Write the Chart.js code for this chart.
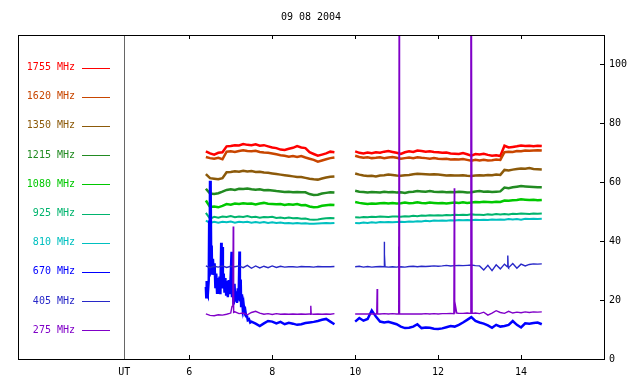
<!DOCTYPE html>
<html>
<head>
<meta charset="utf-8">
<script src="https://cdn.jsdelivr.net/npm/chart.js@4/dist/chart.umd.min.js"></script>
<style>
  html, body { margin: 0; padding: 0; background: #fff; }
  canvas { display: block; }
</style>
</head>
<body>
<canvas id="chart" width="640" height="384"></canvas>
<script>
// Radio flux records, 09 08 2004 (UT hours on x, flux on the right axis)
const chartTitle = '09 08 2004';

// common time grid: first run 6.4-9.5 UT, second run 10.0-14.5 UT
const ut = [
  6.4, 6.5, 6.6, 6.7, 6.8, 6.9, 7.0, 7.1, 7.2, 7.3, 7.4, 7.5, 7.6, 7.7, 7.8, 7.9,
  8.0, 8.1, 8.2, 8.3, 8.4, 8.5, 8.6, 8.7, 8.8, 8.9, 9.0, 9.1, 9.2, 9.3, 9.4, 9.5,
  10.0, 10.1, 10.2, 10.3, 10.4, 10.5, 10.6, 10.7, 10.8, 10.9,
  11.0, 11.1, 11.2, 11.3, 11.4, 11.5, 11.6, 11.7, 11.8, 11.9,
  12.0, 12.1, 12.2, 12.3, 12.4, 12.5, 12.6, 12.7, 12.8, 12.9,
  13.0, 13.1, 13.2, 13.3, 13.4, 13.5, 13.6, 13.7, 13.8, 13.9,
  14.0, 14.1, 14.2, 14.3, 14.4, 14.5
];

const mhz1755 = [
  70.5, 69.8, 69.4, 70.0, 70.2, 72.2, 72.3, 72.6, 72.5, 73.0, 72.7, 72.6, 72.9, 72.4, 72.6, 72.2,
  71.8, 71.6, 71.1, 71.0, 71.4, 71.7, 72.3, 71.8, 71.6, 70.2, 69.6, 69.0, 69.4, 69.8, 70.4, 70.2,
  70.5, 70.0, 69.8, 70.1, 69.9, 70.2, 70.0, 70.4, 70.6, 70.3,
  70.0, 69.6, 70.2, 70.5, 70.3, 70.8, 70.6, 70.4, 70.5, 70.3,
  70.2, 70.0, 70.1, 69.8, 69.7, 69.6, 69.9, 69.5, 69.0, 69.6,
  69.4, 69.7, 69.3, 69.0, 69.2, 68.9, 72.4, 71.8, 72.0, 72.2,
  72.5, 72.3, 72.4, 72.2, 72.4, 72.3
];
const mhz1620 = [
  68.6, 68.2, 68.0, 68.3, 67.8, 70.4, 70.5, 70.3, 70.6, 70.9, 70.6, 70.5, 70.7, 70.3, 70.1, 70.0,
  69.8, 69.5, 69.2, 69.0, 68.7, 68.9, 68.6, 68.9, 68.4, 68.0, 67.6, 67.0, 67.4, 67.8, 68.2, 68.4,
  69.0, 68.6, 68.3, 68.5, 68.2, 68.3, 68.5, 68.2, 68.4, 68.6,
  68.3, 68.0, 68.2, 68.4, 68.2, 68.5, 68.3, 68.2, 68.0, 68.2,
  68.0, 67.9, 68.0, 67.7, 67.8, 67.7, 67.9, 67.6, 67.3, 67.6,
  67.4, 67.6, 67.4, 67.5, 67.7, 67.6, 70.2, 70.4, 70.3, 70.6,
  70.5, 70.8, 70.7, 70.8, 70.9, 70.8
];
const mhz1350 = [
  62.8, 61.4, 61.2, 61.0, 61.4, 63.4, 63.5, 63.7, 63.6, 63.9, 63.7, 63.8, 63.5, 63.6, 63.3, 63.2,
  63.0, 62.8, 62.6, 62.4, 62.2, 62.0, 61.8, 61.8, 61.5, 61.2, 61.0, 60.9, 61.3, 61.6, 61.9, 62.0,
  63.0, 62.6, 62.3, 62.1, 62.2, 62.0, 62.3, 62.4, 62.6, 62.5,
  62.3, 62.2, 62.4, 62.5, 62.7, 62.9, 62.8, 62.7, 62.6, 62.7,
  62.6, 62.5, 62.3, 62.4, 62.3, 62.3, 62.4, 62.2, 62.1, 62.3,
  62.4, 62.3, 62.5, 62.4, 62.6, 62.5, 64.2, 64.0, 64.3, 64.5,
  64.7, 64.6, 64.8, 64.5, 64.4, 64.3
];
const mhz1215 = [
  57.8, 56.2, 56.0, 56.3, 56.8, 57.4, 57.6, 57.4, 57.8, 57.7, 57.9, 57.6, 57.5, 57.6, 57.3, 57.4,
  57.2, 57.0, 56.9, 56.7, 56.8, 56.6, 56.7, 56.6, 56.6, 56.0, 55.7, 55.8, 56.2, 56.4, 56.6, 56.5,
  57.1, 56.8, 56.7, 56.5, 56.7, 56.6, 56.5, 56.8, 56.6, 56.7,
  56.5, 56.6, 56.4, 56.7, 56.8, 57.0, 56.9, 56.8, 57.0, 56.8,
  56.7, 56.8, 56.6, 56.7, 56.6, 56.8, 56.7, 56.5, 56.6, 56.9,
  57.0, 56.8, 56.9, 56.7, 56.8, 56.9, 58.2, 58.0, 58.3, 58.5,
  58.7, 58.6, 58.5, 58.4, 58.3, 58.3
];
const mhz1080 = [
  53.8, 51.6, 51.8, 51.5, 52.0, 52.6, 52.4, 52.8, 52.6, 52.9, 52.7, 52.8, 52.5, 52.8, 53.0, 52.7,
  52.6, 52.5, 52.6, 52.3, 52.5, 52.4, 52.6, 52.2, 52.3, 51.8, 51.5, 51.6, 52.0, 52.2, 52.4, 52.3,
  53.3, 53.0, 52.8, 52.6, 52.8, 52.7, 52.9, 53.0, 52.8, 53.0,
  52.8, 52.9, 53.1, 52.9, 53.0, 53.2, 53.0, 52.9, 53.1, 53.0,
  52.9, 53.0, 52.8, 53.0, 53.1, 53.0, 53.2, 53.0, 53.1, 53.3,
  53.2, 53.4, 53.3, 53.2, 53.4, 53.3, 53.8, 53.7, 53.9, 54.0,
  54.2, 54.1, 54.0, 54.1, 53.9, 54.0
];
const mhz925 = [
  49.6, 47.6, 48.3, 48.0, 48.4, 48.2, 48.5, 48.1, 48.4, 48.2, 48.5, 48.1, 48.3, 48.0, 48.2, 48.1,
  48.3, 47.9, 48.0, 47.8, 48.0, 47.8, 47.9, 47.6, 47.7, 47.4, 47.3, 47.4, 47.6, 47.8, 47.9, 47.8,
  48.1, 48.0, 48.2, 48.1, 48.3, 48.2, 48.4, 48.3, 48.2, 48.4,
  48.4, 48.3, 48.5, 48.4, 48.6, 48.5, 48.7, 48.6, 48.8, 48.7,
  48.8, 48.7, 48.9, 48.8, 49.0, 48.9, 49.0, 48.9, 49.1, 49.0,
  49.0, 48.9, 49.1, 49.0, 49.2, 49.1, 49.2, 49.1, 49.3, 49.2,
  49.4, 49.3, 49.2, 49.4, 49.3, 49.4
];
const mhz810 = [
  47.0, 46.2, 46.6, 46.3, 46.6, 46.4, 46.7, 46.3, 46.6, 46.4, 46.6, 46.3, 46.5, 46.3, 46.5, 46.2,
  46.4, 46.2, 46.3, 46.1, 46.2, 46.0, 46.2, 46.0, 46.1, 45.9, 45.9, 46.0, 46.1, 46.2, 46.1, 46.2,
  46.2, 46.1, 46.3, 46.2, 46.4, 46.3, 46.5, 46.4, 46.5, 46.4,
  46.5, 46.6, 46.5, 46.7, 46.6, 46.8, 46.7, 46.9, 46.8, 47.0,
  46.9, 47.0, 46.9, 47.1, 47.0, 47.2, 47.1, 47.2, 47.1, 47.3,
  47.2, 47.3, 47.2, 47.4, 47.3, 47.4, 47.3, 47.5, 47.4, 47.5,
  47.3, 47.6, 47.5, 47.6, 47.5, 47.6
];
// 670 MHz: null where the burst samples below take over
const mhz670 = [
  null, null, null, null, null, null, null, null, null, null, null, 12.7, 12.0, 11.2, 12.1, 12.9,
  12.7, 12.1, 12.6, 11.8, 12.3, 12.0, 11.6, 11.8, 12.2, 12.4, 12.6, 12.9, 13.3, 13.6, 12.7, 11.8,
  12.7, 13.9, 13.0, 13.6, 16.5, 14.4, 12.7, 12.4, 12.6, 12.2,
  11.8, 11.0, 10.5, 10.6, 11.0, 11.8, 10.5, 10.7, 10.6, 10.3,
  10.2, 10.4, 10.8, 11.2, 11.0, 11.6, 12.4, 13.3, 14.2, 12.9,
  12.4, 12.0, 11.4, 10.6, 11.6, 11.0, 11.2, 11.6, 12.9, 11.6,
  10.7, 12.1, 12.0, 12.2, 12.4, 11.8
];
const burst670Times = [
  6.40, 6.41, 6.42, 6.43, 6.44, 6.45, 6.47, 6.48, 6.49, 6.50, 6.51, 6.52, 6.53, 6.54, 6.55,
  6.57, 6.59, 6.61, 6.63, 6.65, 6.67, 6.69, 6.71, 6.73, 6.75, 6.77, 6.78, 6.80, 6.81, 6.83,
  6.85, 6.87, 6.89, 6.91, 6.93, 6.95, 6.97, 6.99, 7.02, 7.03, 7.05, 7.07, 7.09, 7.11, 7.13,
  7.15, 7.17, 7.19, 7.21, 7.22, 7.24, 7.25, 7.27, 7.29, 7.31, 7.33, 7.35, 7.37, 7.39, 7.41,
  7.44, 7.47
];
const burst670Values = [
  24.5, 21.0, 26.5, 22.0, 25.5, 21.5, 27.0, 47.0, 28.0, 60.5, 32.0, 59.0, 30.0, 38.5, 29.0,
  34.0, 28.5, 32.5, 24.0, 29.0, 22.5, 27.5, 23.0, 28.0, 22.0, 39.5, 26.0, 38.0, 24.0, 29.0,
  22.5, 27.5, 21.5, 26.5, 21.0, 26.8, 22.0, 25.0, 36.4, 21.0, 24.5, 18.5, 25.5, 19.5, 23.0,
  19.0, 24.0, 20.0, 36.5, 19.5, 27.0, 18.0, 22.0, 17.0, 18.5, 15.8, 16.5, 14.5, 14.8, 13.2,
  13.5, 12.4
];
const mhz405 = [
  31.6, 31.0, 31.5, 31.2, 31.6, 31.1, 31.5, 31.3, 31.6, 31.0, 31.8, 30.8, 31.6, 30.9, 31.5, 31.0,
  31.6, 31.1, 31.5, 31.2, 31.3, 31.3, 31.2, 31.4, 31.3, 31.3, 31.2, 31.4, 31.3, 31.3, 31.3, 31.4,
  31.3, 31.5, 31.2, 31.4, 31.2, 31.3, 31.4, 31.3, 31.2, 31.3,
  31.2, 31.3, 31.2, 31.4, 31.5, 31.3, 31.5, 31.4, 31.5, 31.6,
  31.5, 31.6, 31.8, 31.6, 31.7, 31.8, 31.7, 31.8, 31.9, 31.7,
  31.6, 30.2, 31.8, 30.0, 32.0, 30.6, 32.2, 31.0, 32.4, 30.8,
  32.2, 31.6, 32.1, 32.3, 32.2, 32.3
];
const spike405Times = [10.69, 10.70, 10.71, 10.72, 11.04, 11.05, 11.06, 13.67, 13.68, 13.69];
const spike405Values = [31.3, 39.8, 35.6, 31.3, 31.3, 38.2, 31.2, 31.3, 35.1, 31.2];
const mhz275 = [
  15.3, 14.8, 14.7, 15.0, 14.9, 15.2, 15.6, 16.0, 15.4, 15.6, 15.0, 15.8, 16.2, 15.6, 15.2, 15.4,
  15.1, 15.4, 15.2, 15.3, 15.2, 15.3, 15.2, 15.3, 15.2, 15.3, 15.2, 15.3, 15.2, 15.3, 15.2, 15.4,
  15.3, 15.3, 15.3, 15.3, 15.3, 15.3, 15.3, 15.4, 15.3, 15.4,
  15.3, 15.3, 15.3, 15.3, 15.3, 15.3, 15.3, 15.4, 15.3, 15.4,
  15.3, 15.4, 15.4, 15.5, 15.4, 15.5, 15.5, 15.6, 15.5, 15.6,
  15.4, 15.9, 14.9, 15.6, 16.4, 15.8, 15.5, 16.2, 15.6, 15.9,
  15.7, 16.0, 15.8, 16.0, 15.9, 16.0
];
// interference spikes (120 = off scale)
const spike275Times = [
  7.03, 7.05, 7.06, 7.07, 8.92, 8.93, 8.94, 10.52, 10.53, 10.54, 11.05, 11.06, 11.07,
  12.38, 12.39, 12.40, 12.42, 12.45, 12.78, 12.79, 12.795, 12.80, 12.805, 12.81, 12.82
];
const spike275Values = [
  17.8, 17.8, 45.0, 15.8, 15.2, 18.1, 15.3, 15.3, 23.8, 15.3, 15.3, 120, 15.3,
  15.4, 58.0, 15.4, 18.0, 15.6, 15.5, 120, 15.5, 120, 15.5, 120, 15.5
];

const labels = ['1755 MHz', '1620 MHz', '1350 MHz', '1215 MHz', '1080 MHz',
                '925 MHz', '810 MHz', '670 MHz', '405 MHz', '275 MHz'];
const colors = ['#ff0000', '#c84600', '#8c5a0a', '#228b22', '#00c800',
                '#00b46e', '#00c0c0', '#0000ff', '#2828c8', '#8000c8'];

const xTicks = [6, 8, 10, 12, 14];
const yTicks = [0, 20, 40, 60, 80, 100];
const legendEdge = 4.43; // divider between legend panel and data, labelled UT

// merge samples + extra samples, break the line across the data gap
function buildPoints(times, values, extraTimes, extraValues) {
  const pts = [];
  times.forEach((t, i) => { if (values[i] !== null) pts.push({ x: t, y: values[i] }); });
  (extraTimes || []).forEach((t, i) => pts.push({ x: t, y: extraValues[i] }));
  pts.sort((a, b) => a.x - b.x);
  const out = [];
  pts.forEach((p, i) => {
    if (i > 0 && p.x - pts[i - 1].x > 0.3) out.push({ x: (p.x + pts[i - 1].x) / 2, y: null });
    out.push(p);
  });
  return out;
}

const series = [
  buildPoints(ut, mhz1755),
  buildPoints(ut, mhz1620),
  buildPoints(ut, mhz1350),
  buildPoints(ut, mhz1215),
  buildPoints(ut, mhz1080),
  buildPoints(ut, mhz925),
  buildPoints(ut, mhz810),
  buildPoints(ut, mhz670, burst670Times, burst670Values),
  buildPoints(ut, mhz405, spike405Times, spike405Values),
  buildPoints(ut, mhz275, spike275Times, spike275Values)
];
const widths = [2.5, 2.5, 2.5, 2.5, 2.5, 2, 2, 2.5, 1.4, 1.4];

const datasets = series.map((data, i) => ({
  label: labels[i],
  data: data,
  borderColor: colors[i],
  borderWidth: widths[i],
  pointRadius: 0,
  tension: 0,
  fill: false,
  order: labels.length - i
}));

const MONO = '"DejaVu Sans Mono", monospace';

// frame, inward ticks, legend panel, title
const framePlugin = {
  id: 'frame',
  afterDraw(chart) {
    const { ctx, chartArea: a, scales: { x, y } } = chart;
    ctx.save();
    ctx.lineWidth = 1;

    const dx = Math.round(x.getPixelForValue(legendEdge)) + 0.5;
    ctx.strokeStyle = '#666666';
    ctx.beginPath();
    ctx.moveTo(dx, a.top);
    ctx.lineTo(dx, a.bottom);
    ctx.stroke();

    ctx.strokeStyle = '#000000';
    ctx.strokeRect(a.left + 0.5, a.top + 0.5, a.right - a.left, a.bottom - a.top);
    ctx.beginPath();
    xTicks.forEach(v => {
      const px = Math.round(x.getPixelForValue(v)) + 0.5;
      ctx.moveTo(px, a.bottom); ctx.lineTo(px, a.bottom - 4);
      ctx.moveTo(px, a.top); ctx.lineTo(px, a.top + 4);
    });
    yTicks.forEach(v => {
      const py = Math.round(y.getPixelForValue(v)) + 0.5;
      ctx.moveTo(a.right, py); ctx.lineTo(a.right - 4, py);
    });
    ctx.stroke();

    ctx.font = '10px ' + MONO;
    ctx.textBaseline = 'middle';
    labels.forEach((lab, i) => {
      const ly = a.top + 32.5 + i * 29.2;
      ctx.fillStyle = colors[i];
      ctx.textAlign = 'right';
      ctx.fillText(lab, a.left + 57, ly);
      ctx.strokeStyle = colors[i];
      ctx.beginPath();
      ctx.moveTo(a.left + 64, Math.round(ly) + 0.5);
      ctx.lineTo(a.left + 92, Math.round(ly) + 0.5);
      ctx.stroke();
    });

    ctx.fillStyle = '#000000';
    ctx.textAlign = 'center';
    ctx.fillText(chartTitle, (a.left + a.right) / 2, 17);
    ctx.restore();
  }
};

const ctx = document.getElementById('chart').getContext('2d');
new Chart(ctx, {
  type: 'line',
  data: { datasets: datasets },
  options: {
    responsive: false,
    animation: false,
    layout: { padding: { left: 18, top: 35, right: 0, bottom: 0 } },
    plugins: {
      legend: { display: false },
      tooltip: { enabled: false },
      title: { display: false }
    },
    scales: {
      x: {
        type: 'linear',
        min: 1.87,
        max: 16,
        grid: { display: false, tickLength: 0 },
        border: { display: false },
        afterBuildTicks: axis => { axis.ticks = [legendEdge].concat(xTicks).map(v => ({ value: v })); },
        afterFit: axis => { axis.height = 25; },
        ticks: {
          autoSkip: false,
          maxRotation: 0,
          padding: 7,
          color: '#000000',
          font: { family: MONO, size: 10 },
          callback: v => (v === legendEdge ? 'UT' : String(v))
        }
      },
      y: {
        position: 'right',
        min: 0,
        max: 110,
        grid: { display: false, tickLength: 0 },
        border: { display: false },
        afterBuildTicks: axis => { axis.ticks = yTicks.map(v => ({ value: v })); },
        afterFit: axis => { axis.width = 36; },
        ticks: {
          padding: 5,
          color: '#000000',
          font: { family: MONO, size: 10 }
        }
      }
    }
  },
  plugins: [framePlugin]
});
</script>
</body>
</html>
